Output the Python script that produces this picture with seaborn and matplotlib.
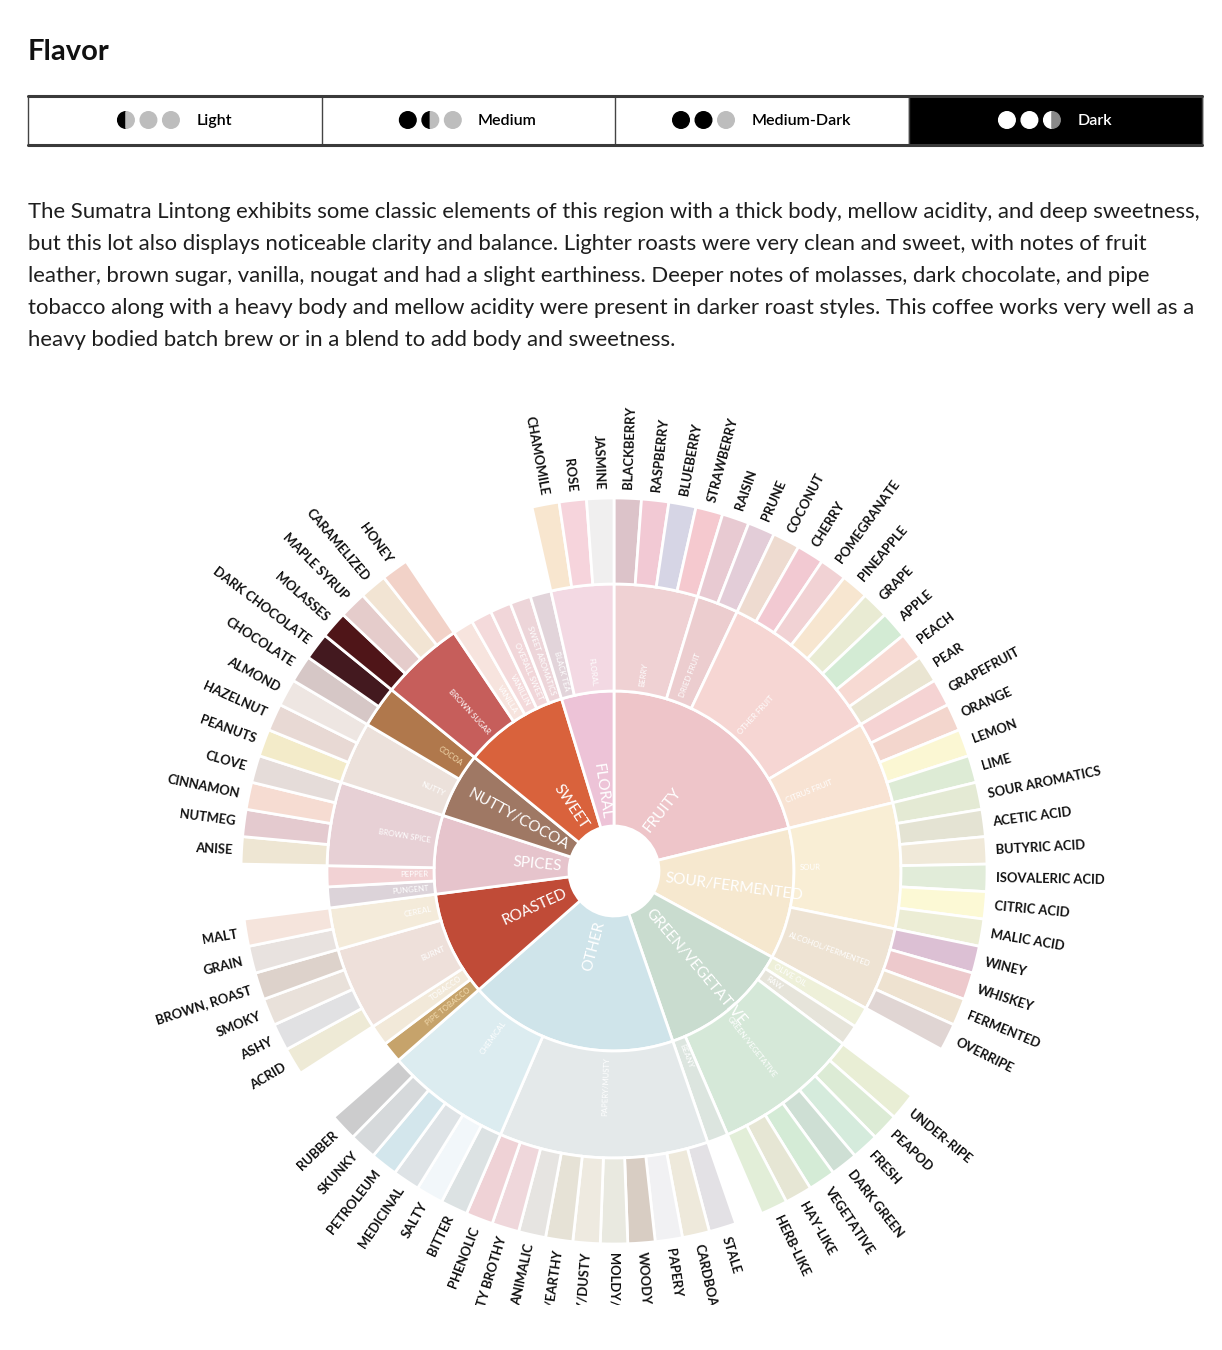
import numpy as np
import matplotlib
matplotlib.use("Agg")
import matplotlib.pyplot as plt
from matplotlib.patches import Rectangle, Circle, Wedge
import seaborn as sns

sns.set_theme(style="white")
plt.rcParams['font.family'] = ['Lato', 'DejaVu Sans']

# roast level selector
roast_levels = ["Light", "Medium", "Medium-Dark", "Dark"]
roast_dots = [["half", "off", "off"], ["on", "half", "off"],
              ["on", "on", "off"], ["on", "on", "half"]]
active_roast = 3

paragraph = [
    "The Sumatra Lintong exhibits some classic elements of this region with a thick body, mellow acidity, and deep sweetness,",
    "but this lot also displays noticeable clarity and balance. Lighter roasts were very clean and sweet, with notes of fruit",
    "leather, brown sugar, vanilla, nougat and had a slight earthiness. Deeper notes of molasses, dark chocolate, and pipe",
    "tobacco along with a heavy body and mellow acidity were present in darker roast styles. This coffee works very well as a",
    "heavy bodied batch brew or in a blend to add body and sweetness.",
]

# wheel: categories (clockwise from 12 o'clock)
cats = ["FRUITY", "SOUR/FERMENTED", "GREEN/VEGETATIVE", "OTHER", "ROASTED",
        "SPICES", "NUTTY/COCOA", "SWEET", "FLORAL"]
cat_colors = ["#eec5c9", "#f6e8cf", "#c9dccf", "#cfe4ea", "#c04b37",
              "#e6c4cc", "#9f7864", "#d9623c", "#edc3d7"]

subs = ["BERRY", "DRIED FRUIT", "OTHER FRUIT", "CITRUS FRUIT",
        "SOUR", "ALCOHOL/FERMENTED",
        "OLIVE OIL", "RAW", "GREEN/VEGETATIVE", "BEANY",
        "PAPERY/MUSTY", "CHEMICAL",
        "PIPE TOBACCO", "TOBACCO", "BURNT", "CEREAL",
        "PUNGENT", "PEPPER", "BROWN SPICE",
        "NUTTY", "COCOA",
        "BROWN SUGAR", "VANILLA", "VANILLIN", "OVERALL SWEET", "SWEET AROMATICS",
        "BLACK TEA", "FLORAL"]
sub_cat = [0, 0, 0, 0,
           1, 1,
           2, 2, 2, 2,
           3, 3,
           4, 4, 4, 4,
           5, 5, 5,
           6, 6,
           7, 7, 7, 7, 7,
           8, 8]
sub_colors = ["#efd1d3", "#eccdcf", "#f6d6d3", "#f8e3d3",
              "#f9eed5", "#eee3d3",
              "#eef0d9", "#e6e4da", "#d5e8d8", "#dce5df",
              "#e4e9ea", "#dcecf0",
              "#c6a36b", "#f2e9d9", "#eee0da", "#f4ebda",
              "#dcd3d9", "#f2d2d4", "#e7d0d5",
              "#ece1db", "#b0784c",
              "#c65e5b", "#f7e4de", "#f4dadb", "#f1d6d9", "#edd5d9",
              "#e2d4da", "#f3d9e3"]

leaves = ["BLACKBERRY", "RASPBERRY", "BLUEBERRY", "STRAWBERRY",
          "RAISIN", "PRUNE",
          "COCONUT", "CHERRY", "POMEGRANATE", "PINEAPPLE", "GRAPE", "APPLE", "PEACH", "PEAR",
          "GRAPEFRUIT", "ORANGE", "LEMON", "LIME",
          "SOUR AROMATICS", "ACETIC ACID", "BUTYRIC ACID", "ISOVALERIC ACID", "CITRIC ACID", "MALIC ACID",
          "WINEY", "WHISKEY", "FERMENTED", "OVERRIPE",
          "UNDER-RIPE", "PEAPOD", "FRESH", "DARK GREEN", "VEGETATIVE", "HAY-LIKE", "HERB-LIKE",
          "STALE", "CARDBOARD", "PAPERY", "WOODY", "MOLDY/DAMP", "MUSTY/DUSTY", "MUSTY/EARTHY",
          "ANIMALIC", "MEATY BROTHY", "PHENOLIC",
          "BITTER", "SALTY", "MEDICINAL", "PETROLEUM", "SKUNKY", "RUBBER",
          "ACRID", "ASHY", "SMOKY", "BROWN, ROAST",
          "GRAIN", "MALT",
          "ANISE", "NUTMEG", "CINNAMON", "CLOVE",
          "PEANUTS", "HAZELNUT", "ALMOND",
          "CHOCOLATE", "DARK CHOCOLATE",
          "MOLASSES", "MAPLE SYRUP", "CARAMELIZED", "HONEY",
          "CHAMOMILE", "ROSE", "JASMINE"]
leaf_sub = [0, 0, 0, 0,
            1, 1,
            2, 2, 2, 2, 2, 2, 2, 2,
            3, 3, 3, 3,
            4, 4, 4, 4, 4, 4,
            5, 5, 5, 5,
            8, 8, 8, 8, 8, 8, 8,
            10, 10, 10, 10, 10, 10, 10, 10, 10, 10,
            11, 11, 11, 11, 11, 11,
            14, 14, 14, 14,
            15, 15,
            18, 18, 18, 18,
            19, 19, 19,
            20, 20,
            21, 21, 21, 21,
            27, 27, 27]
leaf_colors = ["#dcc3c9", "#f2c9d4", "#d6d5e5", "#f5c9cf",
               "#e8cad2", "#e3cdd8",
               "#eedbd0", "#f2c9d2", "#f1d2d4", "#f7e6d0", "#e9ebd3", "#d3ebd4", "#f7dad3", "#eae5d2",
               "#f5d3d3", "#f3d6cd", "#fbf7d3", "#ddebd5",
               "#e4ead4", "#e4e3d3", "#f0e9d9", "#e1ecd9", "#fcf9d5", "#ecedd5",
               "#dcc0d4", "#edc9cc", "#eee2d0", "#e0d5d3",
               "#e9eed5", "#dcebd5", "#d5ebdc", "#cedfd4", "#d4ebd6", "#e6e6d4", "#e2eed8",
               "#e3e1e5", "#eee9db", "#f1f1f3", "#d8cdc3", "#e9e9e0", "#eeeae0", "#e6e2d6",
               "#e6e4e1", "#efd7db", "#efd2d6",
               "#dce2e3", "#f2f7fa", "#dee3e6", "#d3e6ec", "#d6d9db", "#cccccd",
               "#eeead6", "#e1e1e3", "#e9e1da", "#ddd2cb",
               "#e8e2df", "#f5e4dc",
               "#eee6d3", "#e4cacf", "#f6dcd2", "#e5dcd9",
               "#f3ebc9", "#e8d9d4", "#eee6e2",
               "#d6c7c6", "#43191f",
               "#4f1518", "#e5cccb", "#f2e4d3", "#f2d2c8",
               "#f8e6cf", "#f6d4dc", "#f0efef"]

W, H = 1222, 1350
cx, cy = 614, 871
r_hole, r1, r2, r3 = 45, 180, 287, 373

fig = plt.figure(figsize=(W / 100, H / 100), dpi=100)
ax0 = fig.add_axes([0, 0, 1, 1])
ax0.set_xlim(0, W)
ax0.set_ylim(H, 0)
ax0.axis('off')
renderer = fig.canvas.get_renderer()

# title
ax0.text(28, 60, "Flavor", fontsize=21, fontweight='bold', color='#111111', va='baseline')

# roast selector boxes
bx0, bx1, by0, by1 = 28, 1202, 96, 145
cw_box = (bx1 - bx0) / 4
dot_r, dot_gap = 8.3, 22.5
for i, lvl in enumerate(roast_levels):
    x0 = bx0 + i * cw_box
    on_dark = (i == active_roast)
    if on_dark:
        ax0.add_patch(Rectangle((x0, by0), cw_box, by1 - by0, color='black', zorder=1))
    ax0.plot([x0, x0], [by0, by1], color='#444444', lw=1, zorder=2)
    fg = 'white' if on_dark else 'black'
    off = '#8a8a8a' if on_dark else '#bdbdbd'
    t = ax0.text(0, 121, lvl, fontsize=11.5, fontweight='semibold', color=fg,
                 va='center', ha='left', zorder=4)
    tw = t.get_window_extent(renderer).width
    group = 2 * dot_gap + 2 * dot_r + 17 + tw
    gx = x0 + cw_box / 2 - group / 2
    t.set_x(gx + 2 * dot_gap + 2 * dot_r + 17)
    for j, d in enumerate(roast_dots[i]):
        px = gx + dot_r + j * dot_gap
        if d == "on":
            ax0.add_patch(Circle((px, 120), dot_r, color=fg, zorder=3))
        elif d == "off":
            ax0.add_patch(Circle((px, 120), dot_r, color=off, zorder=3))
        else:
            ax0.add_patch(Wedge((px, 120), dot_r, 90, 270, color=fg, zorder=3))
            ax0.add_patch(Wedge((px, 120), dot_r, -90, 90, color=off, zorder=3))
ax0.plot([bx1, bx1], [by0, by1], color='#444444', lw=1, zorder=2)
ax0.plot([bx0, bx1], [by0, by0], color='#3a3a3a', lw=2.2, zorder=2)
ax0.plot([bx0, bx1], [by1, by1], color='#3a3a3a', lw=2.2, zorder=2)

# description
for k, line in enumerate(paragraph):
    ax0.text(28, 218 + 32 * k, line, fontsize=15.9, color='#1e1e1e', va='baseline')

# sunburst on polar axes (1 data unit = 1 pixel)
R = 400
ax = fig.add_axes([(cx - R) / W, (H - cy - R) / H, 2 * R / W, 2 * R / H], projection='polar')
ax.set_theta_zero_location('N')
ax.set_theta_direction(-1)
ax.set_ylim(0, R)
ax.set_axis_off()

clip_rect = Rectangle((0, 45 / H), 1, 1, transform=fig.transFigure)


def radial_text(ang, r, s, size, color, weight='normal', clip=False):
    cwd = np.degrees(ang) % 360
    a = 90 - cwd
    if cwd <= 180.01:
        rot, ha = a, 'left'
    else:
        rot, ha = a + 180, 'right'
    t = ax.text(ang, r, s, rotation=rot, rotation_mode='anchor', ha=ha, va='center',
                fontsize=size, color=color, fontweight=weight)
    if clip:
        t.set_clip_on(True)
        t.set_clip_path(clip_rect)
    return t


n_slots = [max(1, leaf_sub.count(i)) for i in range(len(subs))]
step = 2 * np.pi / sum(n_slots)
sub_start = np.concatenate([[0], np.cumsum(n_slots)[:-1]]) * step
sub_span = np.array(n_slots) * step

# ring 1
for c in range(len(cats)):
    idx = [i for i in range(len(subs)) if sub_cat[i] == c]
    a0 = sub_start[idx[0]]
    a1 = sub_start[idx[-1]] + sub_span[idx[-1]]
    ax.bar((a0 + a1) / 2, r1 - r_hole, width=a1 - a0, bottom=r_hole,
           color=cat_colors[c], edgecolor='white', linewidth=2)
    radial_text((a0 + a1) / 2, r_hole + 7, cats[c], 11, 'white')

# ring 2
for i in range(len(subs)):
    mid = sub_start[i] + sub_span[i] / 2
    ax.bar(mid, r2 - r1, width=sub_span[i], bottom=r1,
           color=sub_colors[i], edgecolor='white', linewidth=2)
    tcol = '#f3dcb0' if subs[i] in ("COCOA", "PIPE TOBACCO") else 'white'
    radial_text(mid, r1 + 6, subs[i], 5.6, tcol)

# ring 3 (leaves)
slot_used = {}
for k in range(len(leaves)):
    s = leaf_sub[k]
    j = slot_used.get(s, 0)
    slot_used[s] = j + 1
    mid = sub_start[s] + (j + 0.5) * step
    ax.bar(mid, r3 - r2, width=step, bottom=r2,
           color=leaf_colors[k], edgecolor='white', linewidth=2)
    radial_text(mid, r3 + 9, leaves[k], 9.4, '#111111', weight='bold', clip=True)

fig.savefig("out.png", dpi=100, facecolor='white')
